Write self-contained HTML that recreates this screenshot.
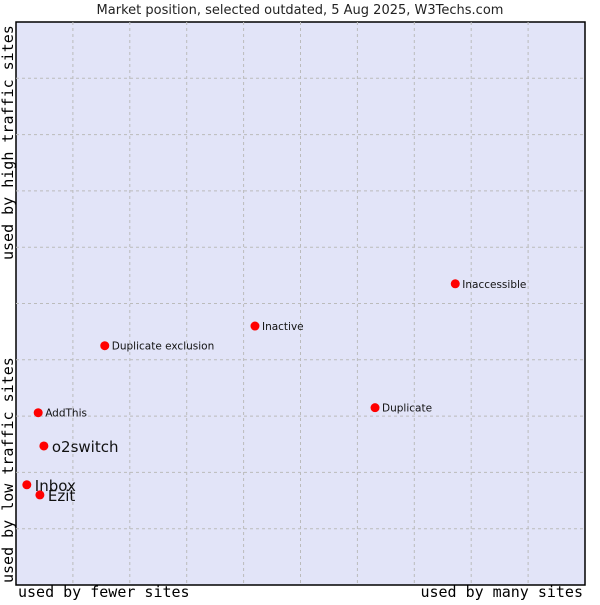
<!DOCTYPE html>
<html><head><meta charset="utf-8"><style>
body{margin:0;background:#fff;width:600px;height:600px;overflow:hidden}
text{font-family:"DejaVu Sans","Liberation Sans",sans-serif}
.ax{font-family:"DejaVu Sans Mono","Liberation Mono",monospace;font-size:15px;fill:#000}
</style></head><body>
<svg id="chart" width="600" height="600" xmlns="http://www.w3.org/2000/svg">
<text x="300" y="14" text-anchor="middle" font-size="13" fill="#222">Market position, selected outdated, 5 Aug 2025, W3Techs.com</text>
<rect x="16" y="22" width="569" height="563" fill="#e2e4f8" stroke="#000" stroke-width="1.5"/>
<g id="grid"></g>
<g id="points"></g>
<text class="ax" x="18" y="597">used by fewer sites</text>
<text class="ax" x="583" y="597" text-anchor="end">used by many sites</text>
<text class="ax" transform="translate(13,583) rotate(-90)">used by low traffic sites</text>
<text class="ax" transform="translate(13,260) rotate(-90)">used by high traffic sites</text>
</svg>
<script>
const names=["Inaccessible","Inactive","Duplicate exclusion","Duplicate","AddThis","o2switch","Inbox","Ezit"];
const xs=[77.2,42.0,15.6,63.1,3.9,4.9,1.9,4.2];
const ys=[53.5,46.0,42.5,31.5,30.6,24.7,17.8,16.0];
const big=[false,false,false,false,false,true,true,true];
const X0=16,W=569,Y0=585,H=563;
const sx=v=>X0+v/100*W, sy=v=>Y0-v/100*H;
const NS="http://www.w3.org/2000/svg";
const g=document.getElementById('grid');
for(let i=1;i<10;i++){
  const v=document.createElementNS(NS,'line');
  
  
  v.setAttribute('x1',sx(i*10));v.setAttribute('x2',sx(i*10));v.setAttribute('y1',22);v.setAttribute('y2',585);
  v.setAttribute('stroke','#bbb');v.setAttribute('stroke-dasharray','3,3');g.appendChild(v);
  const h=document.createElementNS(NS,'line');
  
  
  h.setAttribute('x1',16);h.setAttribute('x2',585);h.setAttribute('y1',sy(i*10));h.setAttribute('y2',sy(i*10));
  h.setAttribute('stroke','#bbb');h.setAttribute('stroke-dasharray','3,3');g.appendChild(h);
}
const p=document.getElementById('points');
names.forEach((n,i)=>{
  const x=sx(xs[i]),y=sy(ys[i]);
  const c=document.createElementNS(NS,'circle');
  
  
  c.setAttribute('cx',x);c.setAttribute('cy',y);c.setAttribute('r',4.5);c.setAttribute('fill','#f00');p.appendChild(c);
  const t=document.createElementNS(NS,'text');
  
  
  t.setAttribute('x',x+(big[i]?8:7));t.setAttribute('y',y+(big[i]?6:4));
  t.setAttribute('font-size',big[i]?15:10.5);t.setAttribute('fill','#111');
  t.textContent=n;p.appendChild(t);
});
</script>
</body></html>
